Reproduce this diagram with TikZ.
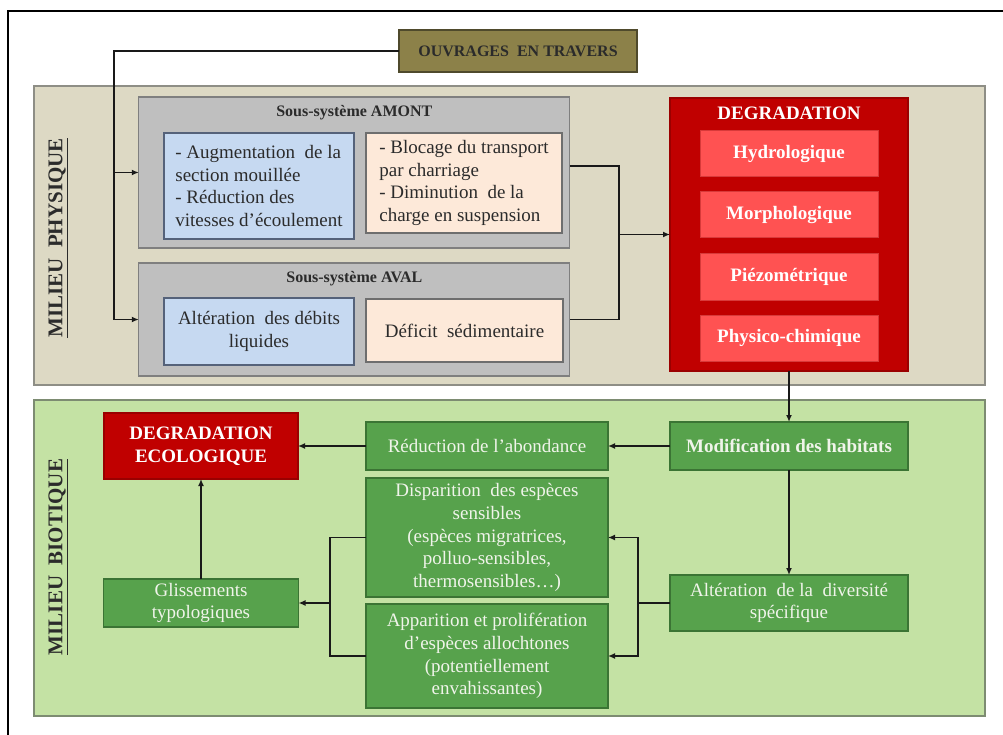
\documentclass[tikz,border=0pt]{standalone}
\usepackage{fontspec}
\setmainfont{Liberation Serif}
\usetikzlibrary{arrows.meta,calc}
\definecolor{tanc}{HTML}{DDD9C4}
\definecolor{tanb}{HTML}{8E8E86}
\definecolor{greenband}{HTML}{C4E2A4}
\definecolor{greenbandb}{HTML}{7D8C72}
\definecolor{grayc}{HTML}{BFBFBF}
\definecolor{grayb}{HTML}{7F7F7F}
\definecolor{bluec}{HTML}{C6D9F1}
\definecolor{blueb}{HTML}{55627A}
\definecolor{peachc}{HTML}{FDE9D9}
\definecolor{peachb}{HTML}{6E6E6E}
\definecolor{olivec}{HTML}{8C8149}
\definecolor{oliveb}{HTML}{4F4A2C}
\definecolor{redc}{HTML}{C00000}
\definecolor{redb}{HTML}{9A0000}
\definecolor{redinner}{HTML}{FF5252}
\definecolor{redinnerb}{HTML}{D83A3A}
\definecolor{greenc}{HTML}{57A24C}
\definecolor{greenb}{HTML}{3B7434}
\definecolor{greentext}{HTML}{F0F4EA}
\definecolor{darktext}{HTML}{2B2B2B}
\begin{document}
\begin{tikzpicture}[x=1pt,y=-1pt,
  sz/.style 2 args={minimum width=#1pt,minimum height=#2pt,inner sep=0pt,outer sep=0pt},
  bodyfont/.style={font=\fontsize{19}{22.7}\selectfont},
  boldfont/.style={font=\bfseries\fontsize{19}{22.7}\selectfont},
  band/.style={draw=#1,line width=1.2pt},
  olivebox/.style={draw=oliveb,fill=olivec,line width=1.3pt,text=darktext,font=\bfseries\fontsize{16}{19}\selectfont},
  graybox/.style={draw=grayb,fill=grayc,line width=1.3pt},
  bluebox/.style={draw=blueb,fill=bluec,line width=1.2pt,text=darktext,bodyfont},
  peachbox/.style={draw=peachb,fill=peachc,line width=1.2pt,text=darktext,bodyfont},
  redbox/.style={draw=redb,fill=redc,line width=1.2pt,text=white,boldfont,align=center},
  redinbox/.style={draw=redinnerb,fill=redinner,line width=1pt,text=white,boldfont},
  greenbox/.style={draw=greenb,fill=greenc,line width=1.2pt,text=greentext,bodyfont,align=center},
  subtitle/.style={text=darktext,font=\bfseries\fontsize{16}{19}\selectfont},
  sidelabel/.style={rotate=90,text=darktext,font=\bfseries\fontsize{21}{24}\selectfont},
  conn/.style={draw=black!90,line width=1.7pt},
  arr/.style={conn,-{Latex[length=7pt,width=6pt]}}
]
\useasboundingbox (0,0) rectangle (1003,735);
\fill[white] (0,0) rectangle (1003,735);
% outer frame
\draw[line width=2pt,black] (8,735) -- (8,11) -- (1003,11);

% bands
\node[band=tanb,fill=tanc,sz={951}{299}] (phys) at (509.5,235.5) {};
\node[band=greenbandb,fill=greenband,sz={951}{316}] (bio) at (509.5,558) {};
\node[sidelabel] (lphys) at (58,238) {\underline{MILIEU\ \ PHYSIQUE}};
\node[sidelabel] (lbio) at (58,557) {\underline{MILIEU\ \ BIOTIQUE}};

% top source
\node[olivebox,sz={238}{42}] (ouv) at (518,51) {OUVRAGES\ \ EN TRAVERS};

% sous-systemes
\node[graybox,sz={431}{151}] (amont) at (354.3,172.5) {};
\node[subtitle] (amontT) at (354.3,113) {Sous-système AMONT};
\node[bluebox,sz={190}{106},align=left] (blue1) at (259,186) {- Augmentation\ \ de la\\section mouillée\\- Réduction des\\vitesses d’écoulement};
\node[peachbox,sz={196}{100},align=left] (peach1) at (464,183) {- Blocage du transport\\par charriage\\- Diminution\ \ de la\\charge en suspension};

\node[graybox,sz={431}{113}] (aval) at (354.3,319.5) {};
\node[subtitle] (avalT) at (354.3,279) {Sous-système AVAL};
\node[bluebox,sz={190}{67},align=center] (blue2) at (259,331.5) {Altération\ \ des débits\\liquides};
\node[peachbox,sz={197}{63}] (peach2) at (464.5,330.5) {Déficit\ \ sédimentaire};

% degradation
\node[redbox,sz={238}{273}] (deg) at (789,234.5) {};
\node[text=white,boldfont] (degT) at (789,113) {DEGRADATION};
\node[redinbox,sz={178}{46}] (hydro) at (789,154) {Hydrologique};
\node[redinbox,sz={178}{46}] (morpho) at (789,215) {Morphologique};
\node[redinbox,sz={178}{46}] (piezo) at (789,277) {Piézométrique};
\node[redinbox,sz={178}{46}] (physico) at (789,338) {Physico-chimique};

% biotique
\node[greenbox,sz={238}{48},boldfont] (modif) at (789,446) {Modification des habitats};
\node[greenbox,sz={238}{56}] (alt) at (789,603) {Altération\ \ de la\ \ diversité\\spécifique};
\node[greenbox,sz={242}{48}] (reduc) at (487,446) {Réduction de l’abondance};
\node[greenbox,sz={242}{119}] (disp) at (487,537.5) {Disparition\ \ des espèces\\sensibles\\(espèces migratrices,\\polluo-sensibles,\\thermosensibles…)};
\node[greenbox,sz={242}{104}] (appar) at (487,656) {Apparition et prolifération\\d’espèces allochtones\\(potentiellement\\envahissantes)};
\node[redbox,sz={194}{66}] (degeco) at (201,446) {DEGRADATION\\ECOLOGIQUE};
\node[greenbox,sz={195}{48}] (gliss) at (201,603) {Glissements\\typologiques};

% connectors top
\draw[arr] (ouv.west) -| ($(aval.west)+(-25,0)$) -- (aval.west);
\draw[arr] ($(amont.west)+(-25,0)$) -- (amont.west);
\coordinate (r1) at (619,166);
\coordinate (r2) at (619,319.5);
\draw[conn] (amont.east |- r1) -- (r1) -- (r2) -- (aval.east);
\draw[arr] (r1 |- deg.west) -- (deg.west);

% connectors bottom
\draw[arr] (deg.south) -- (modif.north);
\draw[arr] (modif.west) -- (reduc.east);
\draw[arr] (reduc.west) -- (degeco.east);
\draw[arr] (modif.south) -- (alt.north);
\coordinate (b1) at (638,603);
\draw[conn] (alt.west) -- (b1);
\draw[arr] (b1) |- (disp.east);
\draw[arr] (b1) |- (appar.east);
\coordinate (b2) at (330,603);
\draw[conn] (disp.west) -| (b2);
\draw[conn] (appar.west) -| (b2);
\draw[arr] (b2) -- (gliss.east);
\draw[arr] (gliss.north) -- (degeco.south);
\end{tikzpicture}
\end{document}
